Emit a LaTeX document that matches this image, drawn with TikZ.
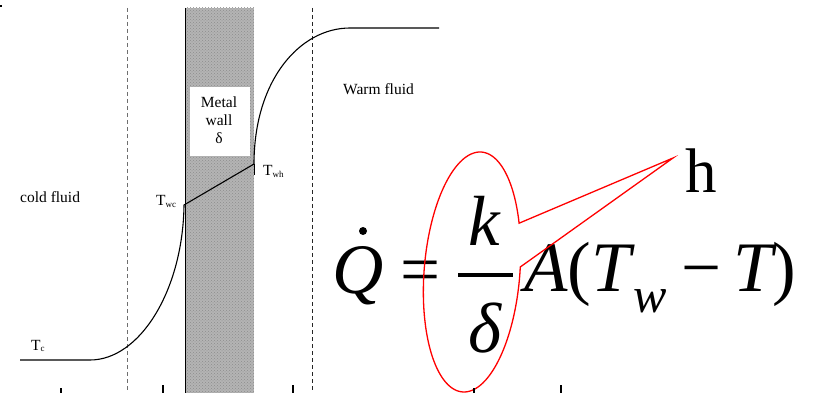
\documentclass[tikz,border=0pt]{standalone}
\usepackage{fontspec}
\setmainfont{Liberation Serif}
\usepackage{tikz}
\usetikzlibrary{
	calc,
	patterns
}
\definecolor{WallGrey}{RGB}{180,180,180}
\definecolor{GuideGrey}{RGB}{110,110,110}
\definecolor{CalloutRed}{RGB}{255,0,0}

\tikzset{
	lbl/.style={font=\fontsize{15.5}{18}\selectfont, inner sep=0pt},
	eqit/.style={font=\fontsize{71}{71}\selectfont\itshape, inner sep=0pt},
	equp/.style={font=\fontsize{71}{71}\selectfont, inner sep=0pt},
	guide/.style={line width=0.9pt, dash pattern=on 4pt off 3pt},
	profile/.style={line width=1.1pt},
	callout/.style={CalloutRed, line width=1.3pt, line join=miter}
}
\newcommand{\lowsub}[1]{\raisebox{-1.5pt}{\fontsize{9}{9}\selectfont #1}}

\begin{document}
\begin{tikzpicture}[x=1pt, y=-1pt]
	\useasboundingbox (0,0) rectangle (820,393);
	% metal wall
	\fill[WallGrey] (185,8) rectangle (254,393);
	\fill[pattern=crosshatch dots, pattern color=black!45] (185,8) rectangle (254,393);
	\draw[line width=1pt] (185,8) -- (185,393);
	\fill[white] (190,87) rectangle (250,156);
	\node[lbl, align=center] (wall) at (219,120) {Metal\\wall\\δ};
	% film boundaries
	\draw[guide, GuideGrey] (127,8) -- (127,393);
	\draw[guide, black!85] (312.5,8) -- (312.5,393);
	% temperature profile
	\coordinate (coldstart) at (20,360);
	\coordinate (coldend) at (90,360);
	\coordinate (wallc) at (184,205);
	\coordinate (wallh) at (254,164);
	\coordinate (warmstart) at (350,28);
	\coordinate (warmend) at (439,28);
	\draw[profile] (coldstart) -- (coldend) .. controls (140,360) and (183,290) .. (wallc)
		-- (wallh) .. controls (254,80) and (300,28) .. (warmstart) -- (warmend);
	\draw[line width=0.8pt] (wallh) -- ++(0,11);
	\node[lbl, anchor=base west] (tc) at (31,350) {T\lowsub{c}};
	\node[lbl, anchor=base west] (twc) at (156,206) {T\lowsub{wc}};
	\node[lbl, anchor=base west] (twh) at (263,176) {T\lowsub{wh}};
	\node[lbl, anchor=base west] (cold) at (20,203) {cold fluid};
	\node[lbl, anchor=base west] (warm) at (343,95) {Warm fluid};
	% heat flow equation
	\node[eqit, anchor=base] (qsym) at (358,293) {Q};
	\fill ($(qsym.base)+(5,-62)$) circle (4pt);
	\node[equp, anchor=base] (eqsign) at (421,293) {=};
	\node[eqit, anchor=base] (kay) at (484,245) {k};
	\draw[line width=3.2pt] (458,275) -- (513,275);
	\node[eqit, anchor=base] (delta) at (485,352) {δ};
	\node[eqit, anchor=base west] (afac) at (524,291) {A{\upshape(}T};
	\node[font=\fontsize{50}{50}\selectfont\itshape, inner sep=0pt, anchor=base west] (wsub) at (633,312) {w};
	\node[equp, anchor=base] (minus) at (702,291) {−};
	\node[eqit, anchor=base west] (tsym) at (733,291) {T\upshape)};
	% callout for h
	\node[font=\fontsize{63}{63}\selectfont, inner sep=0pt, anchor=base] (hcoef) at (701,193) {h};
	\coordinate (htip) at (673,158);
	\draw[callout] plot[domain=-2.4:336, samples=160] ({472+48*cos(\x)-8*sin(\x)},{272+120*sin(\x)}) -- (htip) -- cycle;
	% cut-off marks
	\foreach \xm/\ym in {61/388, 163/385, 293/385, 474/388, 561/385}
		\fill (\xm-1.2,\ym) rectangle (\xm+1.2,393);
	\fill (0,5) rectangle (2,7);
\end{tikzpicture}
\end{document}
